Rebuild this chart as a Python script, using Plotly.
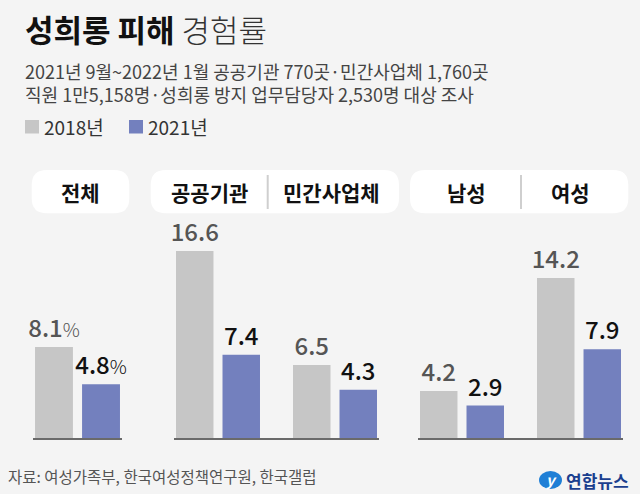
import plotly.graph_objects as go

# ---------------- data ----------------
panel1_categories = ["전체"]
panel2_categories = ["공공기관", "민간사업체"]
panel3_categories = ["남성", "여성"]

series_names = ["2018년", "2021년"]
panel1_2018 = [8.1]
panel1_2021 = [4.8]
panel2_2018 = [16.6, 6.5]
panel2_2021 = [7.4, 4.3]
panel3_2018 = [4.2, 14.2]
panel3_2021 = [2.9, 7.9]

title_bold = "성희롱 피해"
title_light = "경험률"
subtitle_1 = "2021년 9월~2022년 1월 공공기관 770곳·민간사업체 1,760곳"
subtitle_2 = "직원 1만5,158명·성희롱 방지 업무담당자 2,530명 대상 조사"
source_text = "자료: 여성가족부, 한국여성정책연구원, 한국갤럽"
logo_text = "연합뉴스"

# ---------------- layout constants ----------------
W, H = 640, 494
FONT = "Noto Sans CJK KR"
BG = "#f4f4f4"
GRAY = "#c6c6c6"
PURPLE = "#7380be"


def px(x):
    return x / W


def py(y):
    return 1 - y / H


baseline_px = 438.3
top_px = 229.6
y_max = 18.5

panel_px = [(33, 122), (174, 379), (418, 623)]
panel_cats = [panel1_categories, panel2_categories, panel3_categories]
panel_vals = [(panel1_2018, panel1_2021), (panel2_2018, panel2_2021), (panel3_2018, panel3_2021)]

fig = go.Figure()

for i, (cats, (v18, v21)) in enumerate(zip(panel_cats, panel_vals)):
    xa = "x" if i == 0 else f"x{i+1}"
    ya = "y" if i == 0 else f"y{i+1}"
    pct = "<span style='font-size:19px;font-weight:300'>%</span>" if i == 0 else ""
    fig.add_trace(go.Bar(
        x=cats, y=v18, name=series_names[0], xaxis=xa, yaxis=ya,
        marker=dict(color=GRAY, line=dict(width=0)),
        texttemplate="%{y:.1f}" + pct, textposition="outside",
        textfont=dict(family=FONT, size=24, color="#555555", weight=500),
        constraintext="none", cliponaxis=False, showlegend=False, hoverinfo="skip",
    ))
    fig.add_trace(go.Bar(
        x=cats, y=v21, name=series_names[1], xaxis=xa, yaxis=ya,
        marker=dict(color=PURPLE, line=dict(width=0)),
        texttemplate="%{y:.1f}" + pct, textposition="outside",
        textfont=dict(family=FONT, size=24, color="#111111", weight=500),
        constraintext="none", cliponaxis=False, showlegend=False, hoverinfo="skip",
    ))

ydom = [py(baseline_px), py(top_px)]
axis_common = dict(showticklabels=False, ticks="", showgrid=False, zeroline=False,
                   showline=True, linecolor="#6a6a6a", linewidth=2, fixedrange=True)
yaxis_common = dict(range=[0, y_max], domain=ydom, visible=False, fixedrange=True)

layout_axes = {}
for i, ((x0, x1), cats) in enumerate(zip(panel_px, panel_cats)):
    n = len(cats)
    xkey = "xaxis" if i == 0 else f"xaxis{i+1}"
    ykey = "yaxis" if i == 0 else f"yaxis{i+1}"
    layout_axes[xkey] = dict(axis_common, domain=[px(x0), px(x1)], type="category",
                             range=[-0.376, n - 1 + 0.376],
                             anchor="y" if i == 0 else f"y{i+1}")
    layout_axes[ykey] = dict(yaxis_common, anchor="x" if i == 0 else f"x{i+1}")

shapes = []


def pill(x0, y0, x1, y1, r):
    rx, ry = r / W, r / H
    X0, X1, Yt, Yb = px(x0), px(x1), py(y0), py(y1)
    p = (f"M {X0+rx},{Yt} L {X1-rx},{Yt} Q {X1},{Yt} {X1},{Yt-ry} "
         f"L {X1},{Yb+ry} Q {X1},{Yb} {X1-rx},{Yb} L {X0+rx},{Yb} "
         f"Q {X0},{Yb} {X0},{Yb+ry} L {X0},{Yt-ry} Q {X0},{Yt} {X0+rx},{Yt} Z")
    return dict(type="path", xref="paper", yref="paper", path=p,
                fillcolor="#ffffff", line=dict(width=0), layer="below")


shapes.append(pill(31.7, 170, 129.3, 213.3, 15))
shapes.append(pill(150.7, 170, 399, 213.3, 15))
shapes.append(pill(410, 170, 628.3, 213.3, 15))
for dx in (267.7, 521):
    shapes.append(dict(type="line", xref="paper", yref="paper",
                       x0=px(dx), x1=px(dx), y0=py(175), y1=py(209),
                       line=dict(color="#cfcfcf", width=2)))

# legend squares
shapes.append(dict(type="rect", xref="paper", yref="paper", x0=px(25), x1=px(39),
                   y0=py(133.5), y1=py(120), fillcolor=GRAY, line=dict(width=0)))
shapes.append(dict(type="rect", xref="paper", yref="paper", x0=px(129), x1=px(143),
                   y0=py(133.5), y1=py(120), fillcolor=PURPLE, line=dict(width=0)))

# logo mark
shapes.append(dict(type="circle", xref="paper", yref="paper", x0=px(539), x1=px(562),
                   y0=py(489), y1=py(471), fillcolor="#1f7fd6", line=dict(width=0)))

annotations = []


def txt(text, x, y, size, color, xanchor="left", weight=None):
    f = dict(family=FONT, size=size, color=color)
    if weight is not None:
        f["weight"] = weight
    annotations.append(dict(text=text, x=px(x), y=py(y), xref="paper", yref="paper",
                            xanchor=xanchor, yanchor="middle", align="left",
                            showarrow=False, font=f))


txt(f"<b>{title_bold}</b> <span style='color:#333333'>{title_light}</span>", 23, 29, 31, "#111111", weight=300)
txt(subtitle_1 + "<br>" + subtitle_2, 23, 83, 18, "#444444")
txt(series_names[0], 42, 127, 19, "#333333")
txt(series_names[1], 146, 127, 19, "#333333")

header_centers = [(panel1_categories[0], 80.5), (panel2_categories[0], 209),
                  (panel2_categories[1], 331), (panel3_categories[0], 466),
                  (panel3_categories[1], 570)]
for label, cx in header_centers:
    txt(f"<b>{label}</b>", cx, 192, 21, "#111111", xanchor="center")

txt(source_text, 6, 476, 15.5, "#555555")
txt("<b><i>y</i></b>", 550.5, 479.5, 15, "#ffffff", xanchor="center")
txt(f"<b>{logo_text}</b>", 564, 480, 17, "#1b3f8f")

fig.update_layout(
    width=W, height=H,
    margin=dict(l=0, r=0, t=0, b=0),
    paper_bgcolor=BG, plot_bgcolor="rgba(0,0,0,0)",
    barmode="group", bargap=0.205, bargroupgap=0.194,
    shapes=shapes, annotations=annotations,
    font=dict(family=FONT),
    **layout_axes,
)

fig.write_html(
    "out.html",
    config={"displayModeBar": False},
    post_script="document.body.style.margin='0';document.body.style.padding='0';"
                "document.documentElement.style.overflow='hidden';"
                "document.body.style.background='" + BG + "';",
)
